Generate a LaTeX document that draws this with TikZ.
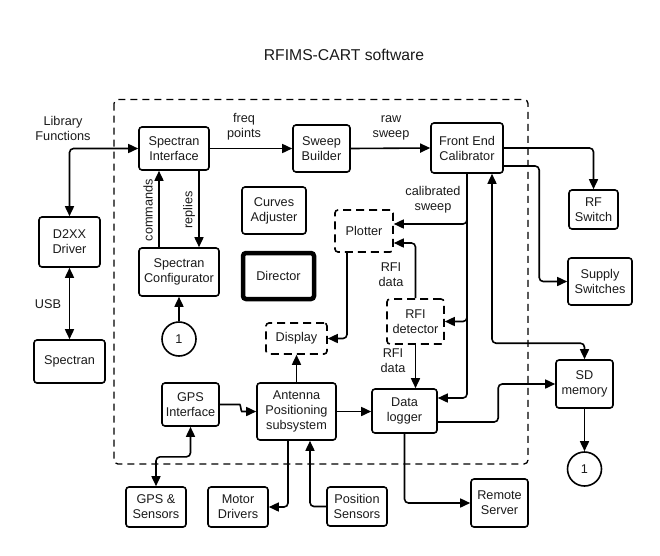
\documentclass[tikz,border=0pt]{standalone}
\usepackage{fontspec}
\setmainfont{Liberation Sans}
\usetikzlibrary{arrows.meta,calc}
\definecolor{txt}{HTML}{1A1A1A}
\begin{document}
\begin{tikzpicture}[x=1pt,y=-1pt,
  every node/.style={text=txt},
  lbl/.style={font=\fontsize{12.7}{15}\selectfont, align=center, inner sep=0pt},
  blk/.style={draw=black, line width=1.6pt, rounded corners=3pt, align=center, inner sep=0pt,
              font=\fontsize{12.7}{15}\selectfont},
  dblk/.style={blk, dash pattern=on 8pt off 5pt},
  circ/.style={draw=black, line width=1.6pt, circle, minimum size=34pt, inner sep=0pt,
              font=\fontsize{12.7}{15}\selectfont},
  conn/.style={draw=black, line width=1.6pt, rounded corners=4pt,
               -{Triangle[length=10pt,width=9pt]}},
  bconn/.style={conn, {Triangle[length=10pt,width=9pt]}-{Triangle[length=10pt,width=9pt]}}
]
\useasboundingbox (0,0) rectangle (660,555);

% title
\node[font=\fontsize{15.7}{18}\selectfont, inner sep=0pt] (title) at (344,55) {RFIMS-CART software};

% software boundary
\draw[line width=1.3pt, dash pattern=on 7pt off 5pt, rounded corners=4pt] (114,99.5) rectangle (528,464);

% blocks
\node[blk, minimum width=70pt, minimum height=43pt] (si) at (174,148.5) {Spectran\\Interface};
\node[blk, minimum width=57pt, minimum height=47pt] (sb) at (321.5,148.5) {Sweep\\Builder};
\node[blk, minimum width=72pt, minimum height=50pt] (fec) at (467,148) {Front End\\Calibrator};
\node[blk, minimum width=49pt, minimum height=39pt] (rfs) at (593.5,209.5) {RF\\Switch};
\node[blk, minimum width=64pt, minimum height=47pt] (ss) at (600,281.5) {Supply\\Switches};
\node[blk, minimum width=64pt, minimum height=47pt] (ca) at (274,210.5) {Curves\\Adjuster};
\node[blk, line width=4.5pt, minimum width=71pt, minimum height=46pt] (dir) at (278.5,276) {Director};
\node[blk, minimum width=61pt, minimum height=50pt] (d2) at (69.5,242) {D2XX\\Driver};
\node[blk, minimum width=80pt, minimum height=48pt] (sc) at (179,272) {Spectran\\Configurator};
\node[circ] (c1) at (179,339) {1};
\node[blk, minimum width=71pt, minimum height=43pt] (sp) at (69.5,361.5) {Spectran};
\node[dblk, minimum width=61pt, minimum height=31pt] (disp) at (296.5,338.5) {Display};
\node[dblk, minimum width=58pt, minimum height=42pt] (pl) at (364,231) {Plotter};
\node[dblk, minimum width=57pt, minimum height=45pt] (rfi) at (415.5,321.5) {RFI\\detector};
\node[blk, minimum width=57pt, minimum height=43pt] (gps) at (190.5,404.5) {GPS\\Interface};
\node[blk, minimum width=79pt, minimum height=57pt] (ant) at (296.5,411.5) {Antenna\\Positioning\\subsystem};
\node[blk, minimum width=65pt, minimum height=44pt] (dl) at (404.5,411) {Data\\logger};
\node[blk, minimum width=57pt, minimum height=48pt] (sd) at (584.5,384) {SD\\memory};
\node[circ] (c2) at (584.5,469) {1};
\node[blk, minimum width=60pt, minimum height=40pt] (gs) at (156,507) {GPS \&\\Sensors};
\node[blk, minimum width=60pt, minimum height=40pt] (md) at (238,507) {Motor\\Drivers};
\node[blk, minimum width=60pt, minimum height=39pt] (ps) at (357,506.5) {Position\\Sensors};
\node[blk, minimum width=57pt, minimum height=48pt] (rs) at (499.5,503) {Remote\\Server};

% connectors
\draw[bconn] (d2.north) |- (si.west);
\draw[bconn] (d2.south) -- (sp.north);
\draw[conn] (si.east) -- (sb.west);
\draw[conn] (sb.east) -- (fec.west);

\coordinate (cm) at ($(sc.north)+(-20,0)$);
\draw[conn] (cm) -- (cm |- si.south);
\coordinate (rp) at ($(si.south)+(25,0)$);
\draw[conn] (rp) -- (rp |- sc.north);
\draw[conn] (c1) -- (sc.south);

\draw[conn] (fec.east) -| (rfs.north);
\draw[conn] ($(fec.east)+(0,18)$) -| ($(ss.west)+(-28,0)$) -- (ss.west);

\draw[conn] (fec.south) |- ($(pl.east)+(0,-7)$);
\draw[conn] (fec.south) |- (rfi.east);
\draw[conn] (fec.south) |- ($(dl.east)+(0,-13)$);

\draw[conn] (rfi.north) |- ($(pl.east)+(0,12)$);
\draw[conn] (rfi.south) -- (rfi.south |- dl.north);
\draw[conn] ($(pl.south)+(-17,0)$) |- (disp.east);
\draw[conn] (ant.north) -- (disp.south);

\draw[conn] (gps.east) -- ++(16,0) to[out=0,in=180] ++(10,7) -- (ant.west);
\draw[conn] (ant.east) -- (ant.east -| dl.west);
\draw[bconn] (gps.south) -- ++(0,30) -| (gs.north);
\draw[conn] ($(ant.south)+(-8.5,0)$) |- (md.east);
\draw[conn] (ps.west) -| ($(ant.south)+(13.5,0)$);

\draw[conn] ($(dl.east)+(0,11)$) -| ($(sd.west)+(-57,0)$) -- (sd.west);
\draw[bconn] ($(fec.south)+(25,0)$) |- ($(sd.north)+(0,-16)$) -- (sd.north);
\draw[conn] (dl.south) |- (rs.west);
\draw[conn] (sd.south) -- (c2.north);

% labels
\node[lbl] (llib) at (63,128) {Library\\Functions};
\node[lbl] (lusb) at (48,304) {USB};
\node[lbl] (lfreq) at (244,127) {freq\\points};
\node[lbl] (lraw) at (391,128) {raw\\sweep};
\node[lbl, rotate=90] (lcmd) at (148,210) {commands};
\node[lbl, rotate=90] (lrep) at (189,210) {replies};
\node[lbl] (lcal) at (433,200) {calibrated\\sweep};
\node[lbl] (lrfi1) at (391,275) {RFI\\data};
\node[lbl] (lrfi2) at (393,361) {RFI\\data};
\end{tikzpicture}
\end{document}
